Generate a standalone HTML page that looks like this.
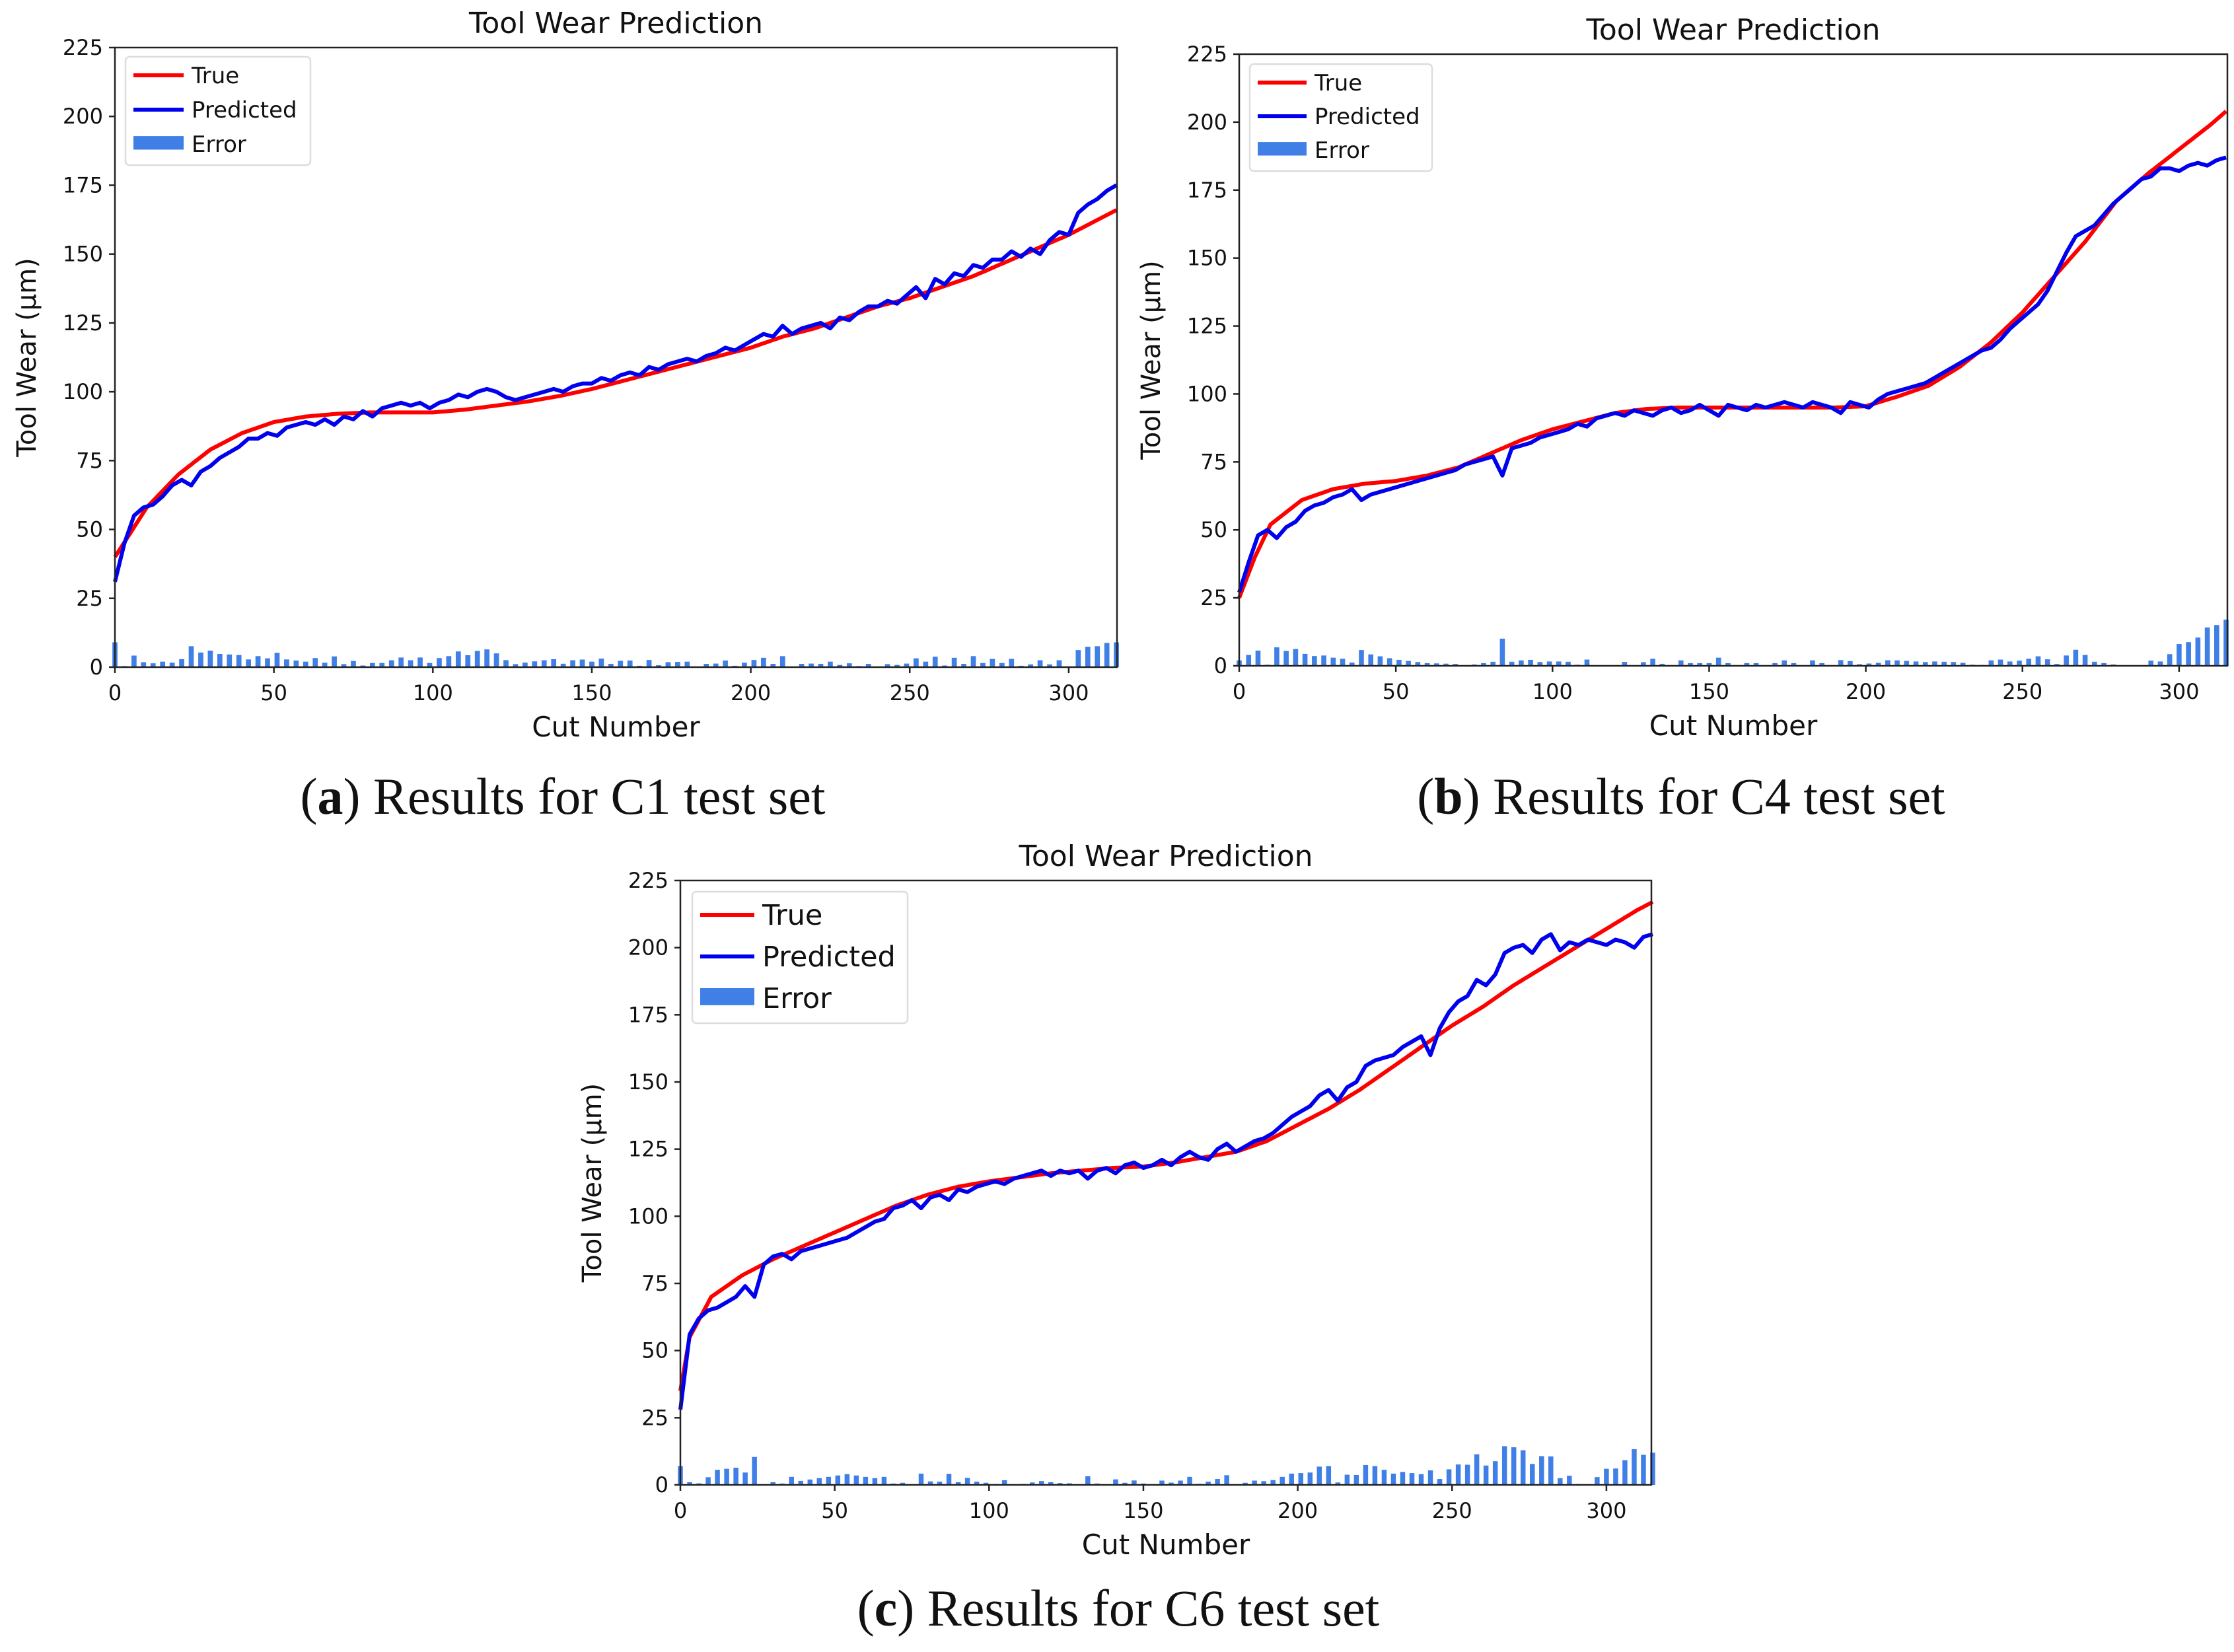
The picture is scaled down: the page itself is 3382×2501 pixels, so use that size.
<!DOCTYPE html>
<html><head><meta charset="utf-8"><style>
html,body{margin:0;padding:0;background:#fff;}
svg{display:block;}
text{font-family:"DejaVu Sans","Liberation Sans",sans-serif;fill:#111;}
.cap{font-family:"Liberation Serif",serif;}
</style></head><body>
<svg id="fig" width="3382" height="2501" viewBox="0 0 3382 2501" xmlns="http://www.w3.org/2000/svg">
<text class="cap" x="852" y="1232" font-size="78" text-anchor="middle">(<tspan font-weight="bold">a</tspan>) Results for C1 test set</text>
<text class="cap" x="2545" y="1232" font-size="78" text-anchor="middle">(<tspan font-weight="bold">b</tspan>) Results for C4 test set</text>
<text class="cap" x="1693" y="2461" font-size="78" text-anchor="middle">(<tspan font-weight="bold">c</tspan>) Results for C6 test set</text>
</svg>
<script>
// shared
const yTicks = [0,25,50,75,100,125,150,175,200,225];
const xTicks = [0,50,100,150,200,250,300];
const step = 3;

// Chart A (C1)
const trueCutsA = [0,10,20,30,40,50,60,70,80,90,100,110,120,130,140,150,160,170,180,190,200,210,220,230,240,250,260,270,280,290,300,310,315];
const trueValsA = [40,58,70,79,85,89,91,92,92.5,92.5,92.5,93.5,95,96.5,98.5,101,104,107,110,113,116,120,123,127,131,134,138,142,147,152,157,163,166];
const predA = [31,45,55,58,59,62,66,68,66,71, 73,76,78,80,83,83,85,84,87,88, 89,88,90,88,91,90,93,91,94,95, 96,95,96,94,96,97,99,98,100,101, 100,98,97,98,99,100,101,100,102,103, 103,105,104,106,107,106,109,108,110,111, 112,111,113,114,116,115,117,119,121,120, 124,121,123,124,125,123,127,126,129,131, 131,133,132,135,138,134,141,139,143,142, 146,145,148,148,151,149,152,150,155,158, 157,165,168,170,173,175];

// Chart B (C4)
const trueCutsB = [0,5,10,20,30,40,50,60,70,80,90,100,110,120,130,140,150,160,170,180,190,200,210,220,230,240,250,260,270,280,290,300,310,315];
const trueValsB = [25,40,52,61,65,67,68,70,73,78,83,87,90,93,94.5,95,95,95,95,95,95,95.5,99,103,110,119,130,143,156,171,181,190,199,204];
const predB = [27,38,48,50,47,51,53,57,59,60, 62,63,65,61,63,64,65,66,67,68, 69,70,71,72,74,75,76,77,70,80, 81,82,84,85,86,87,89,88,91,92, 93,92,94,93,92,94,95,93,94,96, 94,92,96,95,94,96,95,96,97,96, 95,97,96,95,93,97,96,95,98,100, 101,102,103,104,106,108,110,112,114,116, 117,120,124,127,130,133,138,145,152,158, 160,162,166,170,173,176,179,180,183,183, 182,184,185,184,186,187];

// Chart C (C6)
const trueCutsC = [0,3,10,20,30,40,50,60,70,80,90,100,110,120,130,140,150,160,170,180,190,200,210,220,230,240,250,260,270,280,290,300,310,315];
const trueValsC = [35,55,70,78,84,89,94,99,104,108,111,113,114.5,116,117,118,118.5,120,122,124,128,134,140,147,155,163,171,178,186,193,200,207,214,217];
const predC = [28,56,62,65,66,68,70,74,70,82, 85,86,84,87,88,89,90,91,92,94, 96,98,99,103,104,106,103,107,108,106, 110,109,111,112,113,112,114,115,116,117, 115,117,116,117,114,117,118,116,119,120, 118,119,121,119,122,124,122,121,125,127, 124,126,128,129,131,134,137,139,141,145, 147,143,148,150,156,158,159,160,163,165, 167,160,170,176,180,182,188,186,190,198, 200,201,198,203,205,199,202,201,203,202, 201,203,202,200,204,205];

const NS = "http://www.w3.org/2000/svg";
const svg = document.getElementById('fig');
function mk(tag, attrs, parent){const e=document.createElementNS(NS,tag);for(const k in attrs)e.setAttribute(k,attrs[k]);(parent||svg).appendChild(e);return e;}
function interp(cuts, vals, x){
  for(let i=0;i<cuts.length-1;i++){ if(x<=cuts[i+1]){const t=(x-cuts[i])/(cuts[i+1]-cuts[i]);return vals[i]+t*(vals[i+1]-vals[i]);} }
  return vals[vals.length-1];
}

function drawChart(cfg){
  const g = mk('g',{});
  
  
  const xs = c => cfg.x0 + c*cfg.per;
  const ys = v => cfg.y0 - v*(cfg.y0-cfg.ytop)/225;
  const eg = mk('g',{},g);
  
  
  cfg.pred.forEach((p,i)=>{
    const c=i*step; const e=Math.abs(p-interp(cfg.tc,cfg.tv,c));
    const r=mk('rect',{x:xs(c)-cfg.per*0.8,y:ys(e),width:cfg.per*1.6,height:ys(0)-ys(e),fill:'#3f7fe6'},eg);
    
    
  });
  let d='';
  for(let c=0;c<=315;c+=1){d+=(c?'L':'M')+xs(c).toFixed(1)+' '+ys(interp(cfg.tc,cfg.tv,c)).toFixed(1);}
  const tl=mk('path',{d:d,fill:'none',stroke:'#ff0000','stroke-width':6,'stroke-linejoin':'round'},g);
  
  
  d='';
  cfg.pred.forEach((p,i)=>{d+=(i?'L':'M')+xs(i*step).toFixed(1)+' '+ys(p).toFixed(1);});
  const pl=mk('path',{d:d,fill:'none',stroke:'#0000ee','stroke-width':6,'stroke-linejoin':'round'},g);
  
  
  const fr=mk('rect',{x:cfg.x0,y:cfg.ytop,width:cfg.xr-cfg.x0,height:cfg.y0-cfg.ytop,fill:'none',stroke:'#222','stroke-width':2.5},g);
  
  
  yTicks.forEach(v=>{
    mk('line',{x1:cfg.x0-9,x2:cfg.x0,y1:ys(v),y2:ys(v),stroke:'#222','stroke-width':2.5},g);
    const t=mk('text',{x:cfg.x0-18,y:ys(v)+11,'font-size':cfg.tf,'text-anchor':'end'},g);
    t.textContent=v;
    
    
  });
  xTicks.forEach(v=>{
    mk('line',{x1:xs(v),x2:xs(v),y1:cfg.y0,y2:cfg.y0+9,stroke:'#222','stroke-width':2.5},g);
    const t=mk('text',{x:xs(v),y:cfg.y0+50,'font-size':cfg.tf,'text-anchor':'middle'},g);
    t.textContent=v;
    
    
  });
  const cx=(cfg.x0+cfg.xr)/2;
  const ti=mk('text',{x:cx,y:cfg.ytop-22,'font-size':44,'text-anchor':'middle'},g);
  ti.textContent='Tool Wear Prediction';
  
  
  const xl=mk('text',{x:cx,y:cfg.y0+105,'font-size':42,'text-anchor':'middle'},g);
  xl.textContent='Cut Number';
  
  
  const ym=(cfg.y0+cfg.ytop)/2;
  const yl=mk('text',{x:cfg.x0-120,y:ym,'font-size':40,'text-anchor':'middle',transform:`rotate(-90 ${cfg.x0-120} ${ym})`},g);
  yl.textContent='Tool Wear (µm)';
  
  
  const L=cfg.leg;
  const lg=mk('g',{},g);
  
  
  mk('rect',{x:L.x,y:L.y,width:L.w,height:L.h,rx:6,fill:'#fff',stroke:'#ddd','stroke-width':2.5},lg);
  const names=['True','Predicted','Error'];
  names.forEach((n,i)=>{
    const yy=L.y+L.first+i*L.gap;
    if(i<2) mk('line',{x1:L.x+12,x2:L.x+12+L.len,y1:yy,y2:yy,stroke:i?'#0000ee':'#ff0000','stroke-width':6},lg);
    else mk('rect',{x:L.x+12,y:yy-L.f*0.35,width:L.len,height:L.f*0.6,fill:'#3f7fe6'},lg);
    const t=mk('text',{x:L.x+24+L.len,y:yy+L.f*0.35,'font-size':L.f},lg);
    t.textContent=n;
    
    
  });
}

drawChart({name:'chart-c1',x0:174,per:4.813,xr:1691,y0:1010,ytop:72,tc:trueCutsA,tv:trueValsA,pred:predA,tf:32,
  leg:{x:190,y:86,w:280,h:164,first:28,gap:52,len:76,f:34}});
drawChart({name:'chart-c4',x0:1876,per:4.743,xr:3372,y0:1008,ytop:82,tc:trueCutsB,tv:trueValsB,pred:predB,tf:32,
  leg:{x:1892,y:97,w:276,h:162,first:28,gap:51,len:74,f:34}});
drawChart({name:'chart-c6',x0:1030,per:4.673,xr:2500,y0:2248,ytop:1333,tc:trueCutsC,tv:trueValsC,pred:predC,tf:32,
  leg:{x:1048,y:1350,w:326,h:199,first:35,gap:63,len:82,f:43}});
</script>
</body></html>
